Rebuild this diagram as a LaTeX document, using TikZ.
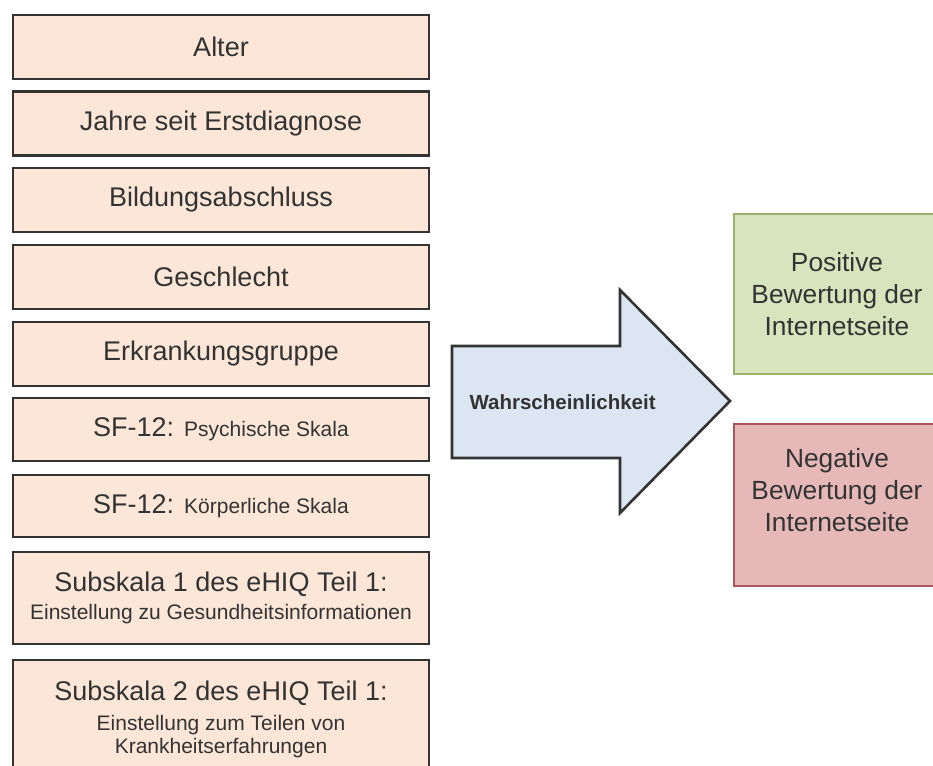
\documentclass[tikz,border=0pt]{standalone}
\usepackage{fontspec}
\setmainfont{Liberation Sans}
\usetikzlibrary{calc}

\definecolor{peach}{HTML}{FBE6D8}
\definecolor{boxline}{HTML}{333333}
\definecolor{arrowfill}{HTML}{DCE6F2}
\definecolor{posfill}{HTML}{D7E4BD}
\definecolor{posline}{HTML}{9DB16E}
\definecolor{negfill}{HTML}{E6B9B8}
\definecolor{negline}{HTML}{A8555C}

\tikzset{
  varbox/.style={draw=boxline, fill=peach, line width=2.6pt, minimum width=416pt,
    inner sep=0pt, align=center, text=black!80},
  outbox/.style={line width=1.6pt, minimum width=206pt, inner sep=0pt, align=center,
    text=black!80},
  big/.style={font=\fontsize{27}{31}\selectfont},
}
\newcommand{\smallsize}{\fontsize{21}{24}\selectfont}

\begin{document}
\begin{tikzpicture}[x=1pt,y=-1pt]
		
		\useasboundingbox (0,0) rectangle (933,765);
		\clip (0,0) rectangle (933,765);
		
		% predictors
		\node[varbox,big,minimum height=64pt] (alter) at (221,47) {Alter};
		\node[varbox,big,minimum height=64pt] (jahre) at (221,123.5) {Jahre seit Erstdiagnose};
		\node[varbox,big,minimum height=64pt] (bildung) at (221,200) {Bildungsabschluss};
		\node[varbox,big,minimum height=64pt] (geschlecht) at (221,277) {Geschlecht};
		\node[varbox,big,minimum height=64pt] (gruppe) at (221,354) {Erkrankungsgruppe};
		\node[varbox,big,minimum height=63pt] (psych) at (221,429.5) {SF-12: {\smallsize Psychische Skala}};
		\node[varbox,big,minimum height=62pt] (koerp) at (221,506) {SF-12: {\smallsize Körperliche Skala}};
		\node[varbox,big,minimum height=92pt] (sub1) at (221,598)
			{Subskala 1 des eHIQ Teil 1:\\[-3pt]\smallsize Einstellung zu Gesundheitsinformationen};
		\node[varbox,big,minimum height=118pt] (sub2) at (221,719)
			{Subskala 2 des eHIQ Teil 1:\\[-1pt]\smallsize Einstellung zum Teilen von\\[-8pt]\smallsize Krankheitserfahrungen};
		
		% big arrow
		\filldraw[fill=arrowfill, draw=boxline, line width=2.6pt, line join=miter]
			(452,346) -- (620,346) -- (620,290) -- (730,401) -- (620,513) -- (620,458) -- (452,458) -- cycle;
		\node[anchor=west, font=\bfseries\fontsize{20.5}{24}\selectfont, text=black!80] (wahr) at (466,402) {Wahrscheinlichkeit};
		
		% outcomes
		\node[outbox, draw=posline, fill=posfill, minimum height=160pt, font=\fontsize{26.3}{32}\selectfont] (pos) at (837,294)
			{Positive\\Bewertung der\\Internetseite};
		\node[outbox, draw=negline, fill=negfill, minimum height=162pt] (neg) at (837,505) {};
		\node[align=center, font=\fontsize{26.3}{32}\selectfont, text=black!80] (negtext) at (837,490)
			{Negative\\Bewertung der\\Internetseite};
	
		\end{tikzpicture}
\end{document}
